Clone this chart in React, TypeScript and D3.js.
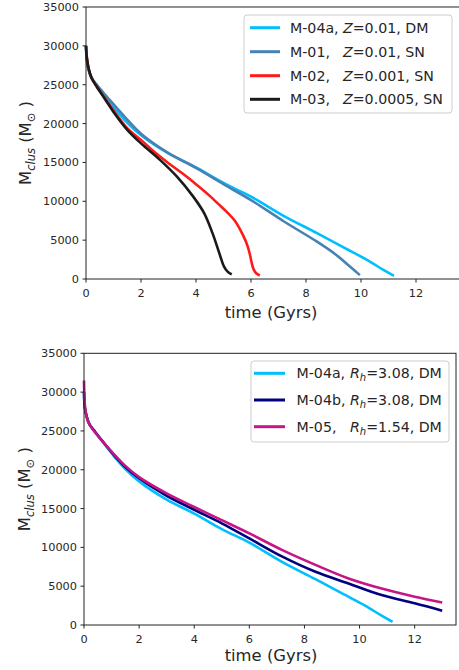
import React from 'react';
import * as d3 from 'd3';

// ---------- data ----------
const xTicks = [0, 2, 4, 6, 8, 10, 12];
const yTicks = [0, 5000, 10000, 15000, 20000, 25000, 30000, 35000];

// M-04a (DM, Z=0.01, Rh=3.08)
const m04aT = [0, 0.03, 0.1, 0.2, 0.4, 0.7, 1.1, 1.5, 2.0, 3.0, 4.0, 5.0, 6.0, 7.2, 8.4, 9.4, 10.2, 10.8, 11.2];
const m04aV = [30000, 28000, 26800, 25800, 24900, 23500, 21700, 20100, 18500, 16150, 14350, 12350, 10600, 8100, 5900, 4000, 2500, 1200, 400];
// M-01 (SN, Z=0.01)
const m01T = [0, 0.03, 0.1, 0.2, 0.4, 0.7, 1.1, 1.5, 2.0, 3.0, 4.0, 5.0, 6.0, 7.2, 8.4, 9.1, 9.5, 9.96];
const m01V = [30000, 28200, 26900, 25900, 24950, 23700, 22100, 20500, 18700, 16200, 14300, 12200, 10150, 7400, 4800, 3100, 1900, 500];
// M-02 (SN, Z=0.001)
const m02T = [0, 0.03, 0.1, 0.2, 0.4, 0.7, 1.0, 1.5, 2.0, 2.5, 3.0, 3.5, 4.0, 4.5, 4.8, 5.1, 5.4, 5.7, 5.87, 5.97, 6.03, 6.1, 6.2, 6.32];
const m02V = [30000, 28500, 27000, 25900, 24700, 23200, 21700, 19400, 17900, 16300, 14900, 13600, 12200, 10700, 9700, 8700, 7550, 5700, 4300, 3000, 2000, 1200, 700, 450];
// M-03 (SN, Z=0.0005)
const m03T = [0, 0.03, 0.1, 0.2, 0.4, 0.7, 1.0, 1.5, 2.0, 2.7, 3.3, 3.9, 4.3, 4.6, 4.85, 5.02, 5.15, 5.3];
const m03V = [30000, 28500, 27000, 25900, 24700, 23100, 21500, 19200, 17450, 15300, 13200, 10600, 8450, 5900, 3300, 1600, 950, 600];
// M-04b (DM, Rh=3.08)
const m04bT = [0, 0.03, 0.1, 0.2, 0.4, 0.7, 1.1, 1.5, 2.0, 3.0, 4.0, 5.0, 6.0, 7.2, 8.4, 9.6, 10.8, 12.0, 13.0];
const m04bV = [30000, 28000, 26800, 25850, 24900, 23550, 21850, 20350, 18900, 16650, 14850, 13100, 11150, 8800, 6850, 5350, 3850, 2800, 1850];
// M-05 (DM, Rh=1.54)
const m05T = [0, 0.02, 0.06, 0.15, 0.35, 0.65, 1.05, 1.5, 2.0, 3.0, 4.0, 5.0, 6.0, 7.2, 8.4, 9.6, 10.8, 12.0, 13.0];
const m05V = [31500, 29000, 27500, 26200, 25050, 23750, 22150, 20500, 19050, 16950, 15200, 13500, 11800, 9650, 7750, 6000, 4700, 3650, 2900];

const topLabelsA = ['M-04a,', 'M-01,', 'M-02,', 'M-03,'];
const topLabelsB = ['=0.01, DM', '=0.01, SN', '=0.001, SN', '=0.0005, SN'];
const botLabelsA = ['M-04a,', 'M-04b,', 'M-05,'];
const botLabelsB = ['=3.08, DM', '=3.08, DM', '=1.54, DM'];

const FONT = '"DejaVu Sans", sans-serif';
const TXT = '#262626';

type Series = { t: number[]; v: number[]; color: string };

function Panel(props: {
  left: number; top: number; bottom: number; right: number; xMax: number;
  series: Series[];
  legend: { x: number; y: number; w: number; h: number; rowY: number[]; lineX: [number, number]; textX: number; varX: number; a: string[]; b: string[]; colors: string[]; varName: 'Z' | 'R' };
  xLabelY: number; yLabelX: number;
}) {
  const { left, top, bottom, right, xMax, series, legend, xLabelY, yLabelX } = props;
  const x = d3.scaleLinear().domain([0, xMax]).range([left, right]);
  const y = d3.scaleLinear().domain([0, 35000]).range([bottom, top]);
  const line = d3.line<[number, number]>().x(d => x(d[0])).y(d => y(d[1])).curve(d3.curveCatmullRom.alpha(0.5));
  const cy = (top + bottom) / 2;
  return (
    <g>
      {series.map((s, i) => (
        <path key={i} d={line(s.t.map((t, j) => [t, s.v[j]] as [number, number])) || ''}
          fill="none" stroke={s.color} strokeWidth={2.6} strokeLinejoin="round" strokeLinecap="butt" />
      ))}
      <rect x={left} y={top} width={right - left} height={bottom - top} fill="none" stroke="#222" strokeWidth={1} />
      {xTicks.map(t => (
        <g key={t}>
          <line x1={x(t)} x2={x(t)} y1={bottom} y2={bottom + 3.5} stroke="#222" />
          <text x={x(t)} y={bottom + 18} textAnchor="middle" fontSize={11.3} fontFamily={FONT} fill={TXT}>{t}</text>
        </g>
      ))}
      {yTicks.map(t => (
        <g key={t}>
          <line x1={left - 3.5} x2={left} y1={y(t)} y2={y(t)} stroke="#222" />
          <text x={left - 7} y={y(t)} dy="0.36em" textAnchor="end" fontSize={11.3} fontFamily={FONT} fill={TXT}>{t}</text>
        </g>
      ))}
      <text x={271} y={xLabelY} textAnchor="middle" fontSize={16.4} fontFamily={FONT} fill={TXT}>time (Gyrs)</text>
      <text transform={`translate(${yLabelX},${cy}) rotate(-90)`} textAnchor="middle" fontSize={16.4} fontFamily={FONT} fill={TXT}>
        <tspan>M</tspan>
        <tspan fontSize={11.5} fontStyle="italic" dy={3.5}>clus</tspan>
        <tspan dy={-3.5}> (M</tspan>
        <tspan fontSize={11.5} dy={3.5}>⊙</tspan>
        <tspan dy={-3.5}> )</tspan>
      </text>
      <rect x={legend.x} y={legend.y} width={legend.w} height={legend.h} rx={3} fill="#fff" fillOpacity={0.8} stroke="#ccc" strokeWidth={1} />
      {legend.rowY.map((ry, i) => (
        <g key={i}>
          <line x1={legend.lineX[0]} x2={legend.lineX[1]} y1={ry} y2={ry} stroke={legend.colors[i]} strokeWidth={3} />
          <text x={legend.textX} y={ry} dy="0.36em" fontSize={14.2} fontFamily={FONT} fill={TXT}>
            <tspan>{legend.a[i]}</tspan>
            <tspan x={legend.varX} fontStyle="italic">{legend.varName}</tspan>
            {legend.varName === 'R' ? (
              <>
                <tspan fontSize={10} fontStyle="italic" dy={3}>h</tspan>
                <tspan dy={-3}>{legend.b[i]}</tspan>
              </>
            ) : (
              <tspan>{legend.b[i]}</tspan>
            )}
          </text>
        </g>
      ))}
    </g>
  );
}

export default function App() {
  const topSeries: Series[] = [
    { t: m04aT, v: m04aV, color: '#00BFFF' },
    { t: m01T, v: m01V, color: '#4682B4' },
    { t: m02T, v: m02V, color: '#FF1A1A' },
    { t: m03T, v: m03V, color: '#1a1a1a' },
  ];
  const botSeries: Series[] = [
    { t: m04aT, v: m04aV, color: '#00BFFF' },
    { t: m04bT, v: m04bV, color: '#000080' },
    { t: m05T, v: m05V, color: '#C71585' },
  ];
  return (
    <svg width={459} height={670} style={{ position: 'absolute', left: 0, top: 0, background: '#fff' }}>
      <rect width={459} height={670} fill="#fff" />
      <Panel left={86} top={7} bottom={279} right={471} xMax={14} series={topSeries}
        xLabelY={318} yLabelX={31}
        legend={{ x: 244, y: 15, w: 208, h: 98, rowY: [27.7, 51.7, 75.7, 99.3], lineX: [250, 280], textX: 290, varX: 343,
          a: topLabelsA, b: topLabelsB, colors: topSeries.map(s => s.color), varName: 'Z' }} />
      <Panel left={84} top={353.3} bottom={625} right={456} xMax={13.5} series={botSeries}
        xLabelY={661} yLabelX={30}
        legend={{ x: 251, y: 361, w: 198, h: 81, rowY: [373.3, 400, 426.7], lineX: [254, 285], textX: 296.5, varX: 350,
          a: botLabelsA, b: botLabelsB, colors: botSeries.map(s => s.color), varName: 'R' }} />
    </svg>
  );
}
